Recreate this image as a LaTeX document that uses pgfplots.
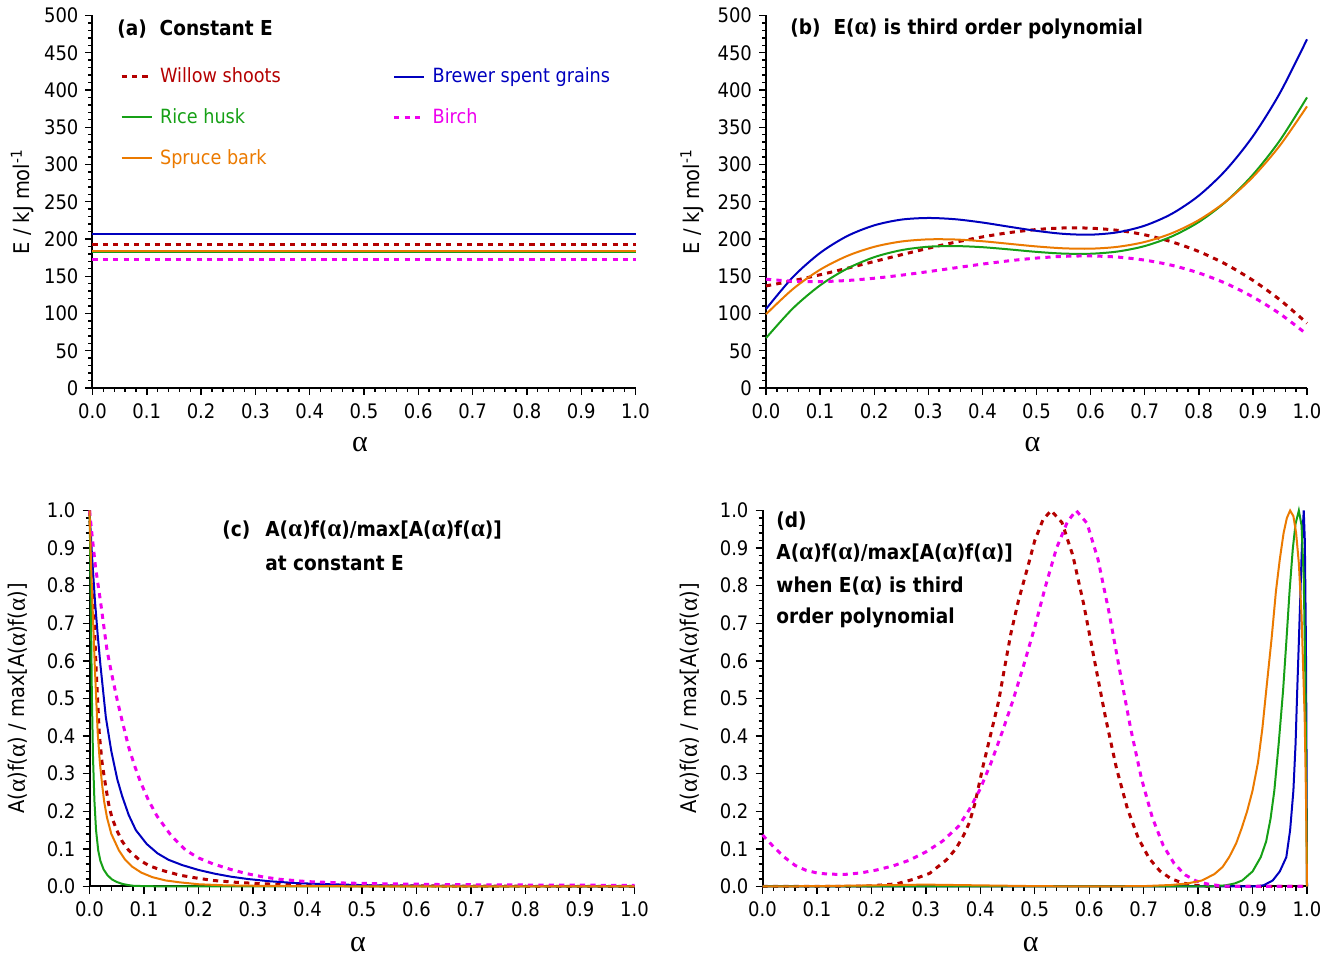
\documentclass[border=0pt]{standalone}
\usepackage{fontspec}
\setmainfont{DejaVu Sans}[FakeStretch=0.9]
\newfontfamily\grk{Liberation Serif}
\usepackage{pgfplots}
\pgfplotsset{compat=1.18}
\newcommand{\al}{{\grk α}}
\newcommand{\alb}{{\grk\fontsize{12.6}{12}\selectfont α}}
\newcommand{\fs}{\fontsize{10}{12}\selectfont}
\newcommand{\fl}{\fontsize{9.8}{12}\selectfont}
\newcommand{\ft}{\fontsize{10.3}{12}\selectfont\bfseries}
\newcommand{\fy}{\fontsize{10.8}{12}\selectfont}
\definecolor{cwil}{HTML}{B40000}
\definecolor{cric}{HTML}{16A016}
\definecolor{cspr}{HTML}{EB7A00}
\definecolor{cbre}{HTML}{0000BE}
\definecolor{cbir}{HTML}{EE00EE}
\tikzset{ttl/.style={anchor=west, inner sep=0pt, font=\ft}}
\pgfplotsset{
  panel/.style={
    scale only axis, anchor=south west, clip=false,
    axis lines=left, axis line style={-, line width=1pt},
    xmin=0, xmax=1, xtick={0,0.1,0.2,0.3,0.4,0.5,0.6,0.7,0.8,0.9,1}, minor x tick num=4,
    tick align=outside, major tick length=3.5pt, minor tick length=2pt,
    every tick/.style={black, line width=0.7pt},
    tick label style={font=\fs},
    label style={font=\fy},
    /pgf/number format/assume math mode=true,
    xticklabel style={yshift=-0.75pt, /pgf/number format/.cd, fixed, fixed zerofill, precision=1},
    xlabel={\fontsize{15}{15}\selectfont\al},
  },
  Epanel/.style={ymin=0, ymax=500, ytick={0,50,...,500}, minor y tick num=4,
    ylabel={E / kJ mol\textsuperscript{-1}}},
  Apanel/.style={ymin=0, ymax=1, ytick={0,0.1,0.2,0.3,0.4,0.5,0.6,0.7,0.8,0.9,1}, minor y tick num=4,
    yticklabel style={/pgf/number format/.cd, fixed, fixed zerofill, precision=1},
    ylabel={A(\alb)f(\alb) / max[A(\alb)f(\alb)]}},
  wil/.style={cwil, line width=1.5pt, dash pattern=on 2.6pt off 2.6pt},
  bir/.style={cbir, line width=1.5pt, dash pattern=on 2.6pt off 2.6pt},
  bre/.style={cbre, line width=1pt},
  ric/.style={cric, line width=1pt},
  spr/.style={cspr, line width=1pt},
}
\begin{document}
\begin{tikzpicture}
\path[use as bounding box] (0,0) rectangle (666.5pt,479pt);
% ---------------- (a)
\begin{axis}[panel, Epanel, at={(46.25pt,285pt)}, width=271.5pt, height=186.25pt,
  xlabel style={at={(axis description cs:0.5,-0.1517)}, anchor=center, xshift=-2pt},
  ylabel style={at={(axis description cs:-0.1289,0.5)}, anchor=center},
  legend columns=2, legend cell align=left,
  legend image code/.code={\draw[#1] (0pt,0pt) -- (15pt,0pt);},
  legend style={at={(0.05,0.872)}, anchor=north west, draw=none, fill=none,
    inner sep=0pt, font=\fl, row sep=7.5pt,
    /tikz/every odd column/.append style={column sep=1.5pt},
    /tikz/every even column/.append style={column sep=54pt}}]
\addplot[wil] coordinates {(0,193) (1,193)};
\addlegendentry{\textcolor{cwil}{Willow shoots}}
\addplot[bre] coordinates {(0,206.5) (1,206.5)};
\addlegendentry{\textcolor{cbre}{Brewer spent grains}}
\addplot[ric] coordinates {(0,182) (1,182)};
\addlegendentry{\textcolor{cric}{Rice husk}}
\addplot[bir] coordinates {(0,172) (1,172)};
\addlegendentry{\textcolor{cbir}{Birch}}
\addplot[spr] coordinates {(0,184.5) (1,184.5)};
\addlegendentry{\textcolor{cspr}{Spruce bark}}
\node[ttl] at (rel axis cs:0.045,0.964) {(a)\ \ Constant E};
\end{axis}
% ---------------- (b)
\begin{axis}[panel, Epanel, at={(383pt,285pt)}, width=270.5pt, height=186.25pt,
  xlabel style={at={(axis description cs:0.5,-0.1517)}, anchor=center, xshift=-2pt},
  ylabel style={at={(axis description cs:-0.1368,0.5)}, anchor=center}]
\addplot[wil, smooth] coordinates {(0,137) (0.05,144.0) (0.1,152.0) (0.15,160.7) (0.2,169.8) (0.25,178.8) (0.3,187.6) (0.35,195.7) (0.4,202.8) (0.45,208.6) (0.5,212.7) (0.55,214.8) (0.6,214.5) (0.65,211.6) (0.7,205.6) (0.75,196.2) (0.8,183.2) (0.85,166.1) (0.9,144.5) (0.95,118.3) (1,87.0)};
\addplot[bre, smooth] coordinates {(0,106) (0.05,149.1) (0.1,181.3) (0.15,203.9) (0.2,218.3) (0.25,226.0) (0.3,228.2) (0.35,226.5) (0.4,222.1) (0.45,216.4) (0.5,210.9) (0.55,206.9) (0.6,205.8) (0.65,209.0) (0.7,217.9) (0.75,233.8) (0.8,258.2) (0.85,292.5) (0.9,337.9) (0.95,396.0) (1,468)};
\addplot[ric, smooth] coordinates {(0,67) (0.05,107.1) (0.1,137.8) (0.15,160.2) (0.2,175.6) (0.25,185.0) (0.3,189.6) (0.35,190.5) (0.4,189.0) (0.45,186.0) (0.5,182.7) (0.55,180.4) (0.6,180.2) (0.65,183.2) (0.7,190.5) (0.75,203.4) (0.8,222.8) (0.85,250.1) (0.9,286.3) (0.95,332.5) (1,390.0)};
\addplot[bir, smooth] coordinates {(0,146) (0.05,143.3) (0.1,142.8) (0.15,144.3) (0.2,147.3) (0.25,151.4) (0.3,156.2) (0.35,161.3) (0.4,166.3) (0.45,170.8) (0.5,174.4) (0.55,176.7) (0.6,177.2) (0.65,175.7) (0.7,171.6) (0.75,164.7) (0.8,154.4) (0.85,140.4) (0.9,122.2) (0.95,99.6) (1,72.0)};
\addplot[spr, smooth] coordinates {(0,99) (0.05,133.0) (0.1,158.8) (0.15,177.2) (0.2,189.5) (0.25,196.6) (0.3,199.5) (0.35,199.3) (0.4,197.0) (0.45,193.5) (0.5,190.0) (0.55,187.5) (0.6,187.0) (0.65,189.5) (0.7,196.0) (0.75,207.7) (0.8,225.4) (0.85,250.3) (0.9,283.3) (0.95,325.6) (1,378)};
\node[ttl] at (rel axis cs:0.0444,0.964) {(b)\ \ E(\alb) is third order polynomial};
\end{axis}
% ---------------- (c)
\begin{axis}[panel, Apanel, at={(44.75pt,35.75pt)}, width=272.5pt, height=188pt,
  xlabel style={at={(axis description cs:0.5,-0.154)}, anchor=center, xshift=-2pt},
  ylabel style={at={(axis description cs:-0.1312,0.5)}, anchor=center}]
\addplot[wil] coordinates {(0,1) (0.0035,0.88) (0.0073,0.76) (0.012,0.583) (0.018,0.406) (0.023,0.33) (0.029,0.273) (0.035,0.22) (0.041,0.184) (0.05,0.15) (0.06,0.12) (0.072,0.096) (0.093,0.069) (0.11,0.055) (0.133,0.043) (0.166,0.03) (0.194,0.023) (0.227,0.016) (0.27,0.011) (0.32,0.007) (0.4,0.004) (0.5,0.002) (0.7,0.001) (1,0)};
\addplot[bre] coordinates {(0,1) (0.005,0.87) (0.01,0.76) (0.015,0.67) (0.02,0.59) (0.03,0.45) (0.04,0.36) (0.051,0.285) (0.06,0.24) (0.072,0.19) (0.085,0.15) (0.105,0.113) (0.125,0.088) (0.145,0.071) (0.17,0.057) (0.2,0.044) (0.23,0.034) (0.26,0.026) (0.29,0.02) (0.33,0.014) (0.38,0.009) (0.44,0.006) (0.52,0.003) (0.65,0.0015) (0.8,0.0008) (1,0)};
\addplot[ric] coordinates {(0,1) (0.001,0.92) (0.0024,0.76) (0.0043,0.51) (0.0065,0.34) (0.009,0.229) (0.012,0.15) (0.016,0.096) (0.02,0.068) (0.026,0.045) (0.033,0.03) (0.041,0.019) (0.05,0.012) (0.06,0.007) (0.07,0.004) (0.08,0.002) (0.1,0.001) (0.15,0) (1,0)};
\addplot[bir] coordinates {(0,1) (0.005,0.93) (0.011,0.85) (0.02,0.76) (0.032,0.63) (0.04,0.57) (0.051,0.495) (0.06,0.44) (0.072,0.37) (0.083,0.32) (0.093,0.28) (0.108,0.23) (0.124,0.187) (0.15,0.135) (0.176,0.097) (0.2,0.076) (0.227,0.06) (0.26,0.045) (0.289,0.034) (0.32,0.025) (0.35,0.019) (0.4,0.013) (0.473,0.009) (0.55,0.007) (0.657,0.005) (0.8,0.004) (1,0.003)};
\addplot[spr] coordinates {(0,1) (0.0015,0.93) (0.003,0.85) (0.006,0.73) (0.0098,0.583) (0.015,0.41) (0.019,0.33) (0.023,0.273) (0.027,0.225) (0.032,0.184) (0.04,0.14) (0.054,0.096) (0.065,0.072) (0.078,0.053) (0.095,0.037) (0.115,0.025) (0.14,0.016) (0.166,0.011) (0.2,0.006) (0.25,0.003) (0.3,0.002) (0.4,0.001) (0.6,0) (1,0)};
\node[ttl] at (rel axis cs:0.243,0.947) {(c)};
\node[ttl] at (rel axis cs:0.322,0.947) {A(\alb)f(\alb)/max[A(\alb)f(\alb)]};
\node[ttl] at (rel axis cs:0.322,0.860) {at constant E};
\end{axis}
% ---------------- (d)
\begin{axis}[panel, Apanel, at={(381.25pt,35.75pt)}, width=272.25pt, height=188pt,
  xlabel style={at={(axis description cs:0.5,-0.154)}, anchor=center, xshift=-2pt},
  ylabel style={at={(axis description cs:-0.1332,0.5)}, anchor=center}]
\addplot[wil] coordinates {(0,0) (0.15,0) (0.2,0.002) (0.246,0.007) (0.277,0.019) (0.307,0.035) (0.338,0.071) (0.355,0.1) (0.369,0.135) (0.38,0.17) (0.39,0.22) (0.405,0.32) (0.42,0.41) (0.434,0.495) (0.445,0.585) (0.456,0.672) (0.47,0.76) (0.487,0.849) (0.5,0.92) (0.515,0.975) (0.53,1.0) (0.55,0.968) (0.57,0.88) (0.59,0.75) (0.61,0.599) (0.63,0.449) (0.65,0.315) (0.67,0.208) (0.69,0.129) (0.71,0.075) (0.73,0.041) (0.75,0.021) (0.77,0.010) (0.79,0.004) (0.82,0) (1,0)};
\addplot[bre] coordinates {(0,0) (0.9,0) (0.92,0.003) (0.937,0.016) (0.95,0.04) (0.962,0.078) (0.969,0.15) (0.975,0.255) (0.979,0.38) (0.982,0.52) (0.985,0.65) (0.988,0.786) (0.991,0.92) (0.994,1.0) (0.996,0.92) (0.998,0.65) (0.9993,0.3) (1,0)};
\addplot[ric] coordinates {(0,0) (0.82,0) (0.85,0.003) (0.867,0.008) (0.881,0.016) (0.9,0.04) (0.915,0.078) (0.925,0.12) (0.933,0.18) (0.94,0.255) (0.948,0.38) (0.956,0.52) (0.962,0.65) (0.968,0.786) (0.974,0.9) (0.979,0.965) (0.985,1.0) (0.99,0.96) (0.994,0.82) (0.997,0.55) (0.999,0.22) (1,0)};
\addplot[bir] coordinates {(0,0.137) (0.02,0.106) (0.04,0.078) (0.06,0.056) (0.08,0.043) (0.1,0.036) (0.12,0.033) (0.15,0.032) (0.18,0.036) (0.21,0.044) (0.24,0.055) (0.27,0.07) (0.3,0.092) (0.33,0.12) (0.36,0.16) (0.38,0.205) (0.4,0.26) (0.42,0.33) (0.44,0.41) (0.46,0.495) (0.48,0.59) (0.5,0.69) (0.52,0.8) (0.54,0.9) (0.56,0.97) (0.576,1.0) (0.596,0.966) (0.616,0.871) (0.636,0.732) (0.656,0.575) (0.676,0.421) (0.696,0.287) (0.716,0.183) (0.736,0.109) (0.756,0.061) (0.776,0.031) (0.796,0.015) (0.816,0.007) (0.84,0.002) (0.87,0) (1,0)};
\addplot[spr] coordinates {(0,0) (0.1,0.001) (0.2,0.003) (0.3,0.005) (0.4,0.003) (0.5,0.001) (0.6,0) (0.7,0.001) (0.75,0.004) (0.78,0.008) (0.807,0.016) (0.83,0.033) (0.845,0.052) (0.857,0.078) (0.87,0.115) (0.88,0.155) (0.89,0.2) (0.9,0.255) (0.91,0.33) (0.918,0.42) (0.925,0.52) (0.935,0.66) (0.943,0.786) (0.95,0.87) (0.957,0.94) (0.963,0.98) (0.969,1.0) (0.975,0.985) (0.98,0.94) (0.985,0.86) (0.99,0.72) (0.9957,0.45) (0.998,0.25) (1,0)};
\node[ttl] at (rel axis cs:0.0248,0.972) {(d)};
\node[ttl] at (rel axis cs:0.0248,0.887) {A(\alb)f(\alb)/max[A(\alb)f(\alb)]};
\node[ttl] at (rel axis cs:0.0248,0.799) {when E(\alb) is third};
\node[ttl] at (rel axis cs:0.0248,0.714) {order polynomial};
\end{axis}
\end{tikzpicture}
\end{document}
